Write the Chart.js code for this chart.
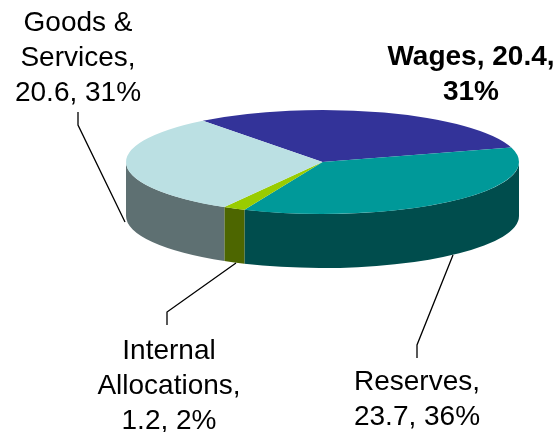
<!DOCTYPE html>
<html>
<head>
<meta charset="utf-8">
<style>
  html, body { margin: 0; padding: 0; background: #fff; }
  canvas { display: block; }
</style>
<script src="https://cdn.jsdelivr.net/npm/chart.js@4"></script>
</head>
<body>
<canvas id="myChart" width="557" height="432"></canvas>
<script>
const categories = ["Wages", "Reserves", "Internal Allocations", "Goods & Services"];
const values = [20.4, 23.7, 1.2, 20.6];
const percents = [31, 36, 2, 31];

const topColors = ["#333399", "#009999", "#99cc00", "#bbe0e3"];
const sideColors = ["#1f1f5c", "#004d4d", "#4d6600", "#5e7072"];

// Pie is drawn flat by Chart.js, then squashed to look tilted
const squash = 52 / 196.5;
const depth = 54;

const labels = [
    { lines: ["Wages, 20.4,", "31%"], x: 471, y: 65, bold: true },
    { lines: ["Reserves,", "23.7, 36%"], x: 417, y: 390 },
    { lines: ["Internal", "Allocations,", "1.2, 2%"], x: 169, y: 359 },
    { lines: ["Goods &", "Services,", "20.6, 31%"], x: 78, y: 31 },
];

const leaders = [
    [[453, 255], [417, 345], [417, 358]],
    [[236, 263], [167, 312], [167, 325]],
    [[78, 112], [78, 125], [125, 222]],
];

const tiltPlugin = {
    id: "tilt",
    beforeDatasetsDraw(chart) {
        const ctx = chart.ctx;
        const arcs = chart.getDatasetMeta(0).data;
        const cx = arcs[0].x, cy = arcs[0].y;
        const rx = arcs[0].outerRadius, ry = rx * squash;

        // front wall, only the part of each slice facing the viewer
        arcs.forEach((arc, i) => {
            for (let k = -1; k <= 1; k++) {
                const s = Math.max(arc.startAngle + k * 2 * Math.PI, 0);
                const e = Math.min(arc.endAngle + k * 2 * Math.PI, Math.PI);
                if (e <= s) continue;
                ctx.beginPath();
                ctx.ellipse(cx, cy, rx, ry, 0, s, e);
                ctx.ellipse(cx, cy + depth, rx, ry, 0, e, s, true);
                ctx.closePath();
                ctx.fillStyle = sideColors[i];
                ctx.fill();
            }
        });

        ctx.save();
        ctx.translate(cx, cy);
        ctx.scale(1, squash);
        ctx.translate(-cx, -cy);
    },
    afterDatasetsDraw(chart) {
        chart.ctx.restore();
    },
    afterDraw(chart) {
        const ctx = chart.ctx;
        ctx.strokeStyle = "#000";
        ctx.lineWidth = 1.3;
        leaders.forEach((pts) => {
            ctx.beginPath();
            pts.forEach((p, i) => (i ? ctx.lineTo(p[0], p[1]) : ctx.moveTo(p[0], p[1])));
            ctx.stroke();
        });

        ctx.fillStyle = "#000";
        ctx.textAlign = "center";
        ctx.textBaseline = "alphabetic";
        labels.forEach((l) => {
            ctx.font = (l.bold ? "bold " : "") + "28px 'Liberation Sans'";
            l.lines.forEach((line, i) => ctx.fillText(line, l.x, l.y + i * 35));
        });
    },
};

const myChart = new Chart(document.querySelector("#myChart"), {
    type: "pie",
    data: {
        labels: categories,
        datasets: [{
            data: values,
            backgroundColor: topColors,
            borderWidth: 0,
        }],
    },
    options: {
        responsive: false,
        animation: false,
        rotation: -37.5,
        radius: 196.5,
        layout: { padding: { left: 88, top: 0, right: 0, bottom: 108 } },
        plugins: {
            legend: { display: false },
            tooltip: { enabled: false },
        },
    },
    plugins: [tiltPlugin],
});
</script>
</body>
</html>
